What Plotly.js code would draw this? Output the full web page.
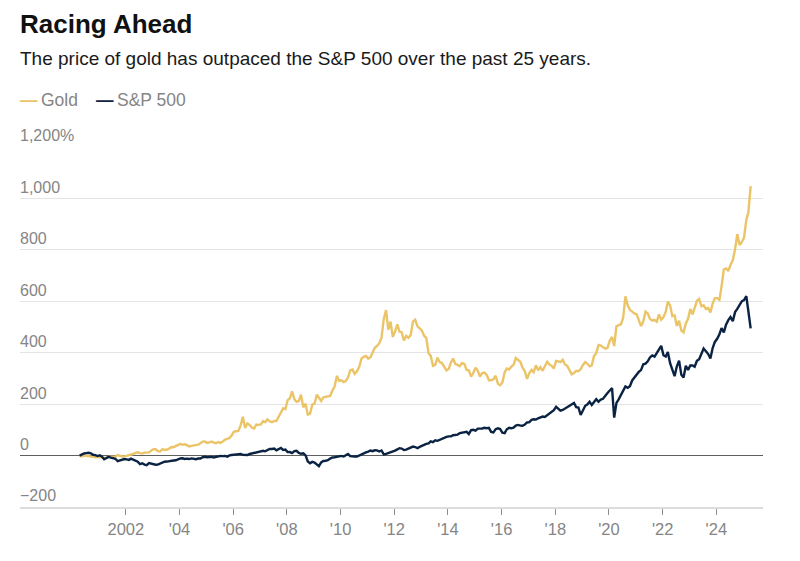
<!DOCTYPE html>
<html>
<head>
<meta charset="utf-8">
<script src="https://cdn.plot.ly/plotly-3.0.1.min.js"></script>
<style>
  html, body { margin: 0; padding: 0; background: #ffffff; }
  #chart { width: 800px; height: 561px; }
</style>
</head>
<body>
<div id="chart"></div>
<script>
// Monthly samples, April 2000 through April 2025 (cumulative % change since April 2000)
const startYear = 2000, startMonth = 4, endYear = 2025, endMonth = 4;

const goldPct = [
  // 2000 (Apr-Dec)
  0, -3.5, 0, -0.7, -3.5, -4.2, -5.3, -6.7, -4.6,
  // 2001
  -7, -8, -7.4, -8.8, -4.6, -5.3, -6.7, -4.6, 1.8, -1, -3.5, -3.2,
  // 2002
  -1, 3.9, 3.2, 6, 10.5, 13, 9.5, 7.7, 11.6, 10.5, 12.3, 19.3,
  // 2003
  25, 24.6, 17.5, 15.8, 24.6, 22.8, 22.8, 26.3, 33.3, 32.6, 37.6, 43.2,
  // 2004
  45.6, 42.1, 43.9, 40.4, 35.1, 37.9, 39.7, 41.1, 42.5, 48.1, 54.4, 55.1,
  // 2005
  48.8, 50.9, 54.4, 50.2, 48.1, 52.6, 49.1, 54.4, 62.1, 64.9, 68.4, 79,
  // 2006
  93, 94.7, 95.8, 117.6, 151, 107, 124.6, 119.3, 108.8, 105.3, 120.4, 119.3,
  // 2007
  121, 134.4, 129.8, 140.4, 133.3, 129.8, 134.4, 134.4, 150.9, 166.7, 184.2, 180.7,
  // 2008
  215.8, 222.8, 250, 219.3, 208.8, 212.3, 236.9, 187.7, 201.8, 159.7, 163.2, 198.3,
  // 2009
  201.8, 236.9, 222.8, 212.3, 226.3, 228.1, 228.1, 231.6, 252.6, 268.4, 310, 290,
  // 2010
  293, 286, 289.5, 303.5, 331.6, 335.1, 317.6, 328, 345.6, 377.2, 384.2, 387.7,
  // 2011
  377.2, 382.5, 400, 419.3, 426.4, 436.9, 458, 531.6, 566, 489.5, 521.1, 461.4,
  // 2012
  482.5, 510.6, 482.5, 479, 447.4, 465, 458, 468.4, 521, 528, 503.5, 493,
  // 2013
  486, 465, 458, 398.3, 387.7, 349, 352.6, 380.7, 363.2, 359.7, 342.1, 331.6,
  // 2014
  336.8, 363.2, 377.2, 356.1, 352.6, 347.4, 359.7, 356.1, 333.4, 331.6, 307, 321,
  // 2015
  342, 329.8, 307, 321, 322.8, 314, 293, 293, 296.5, 310.5, 279, 273.7,
  // 2016
  284.2, 324.6, 338.6, 335, 345.6, 352.6, 379, 370.2, 365, 342, 328, 298.3,
  // 2017
  321, 333.4, 324.6, 350.9, 331.6, 343.9, 329.8, 347.4, 365, 354.4, 349, 338.6,
  // 2018
  368.4, 366.7, 363.2, 372, 354.4, 349, 335, 315.8, 321, 329.8, 328, 336.8,
  // 2019
  352.6, 363.2, 357.9, 347.4, 350.9, 387.7, 398.3, 430, 428, 422.8, 415.8, 419.3,
  // 2020
  447.4, 461.4, 426, 503.5, 507, 510.6, 535, 619.3, 584.2, 566.7, 559.7, 552.6,
  // 2021
  549.2, 524.6, 503.5, 521, 559.7, 552.6, 531.6, 524.6, 528, 521, 549.2, 528,
  // 2022
  538.6, 559.7, 598.3, 584.2, 542.1, 545.6, 503.5, 524.6, 486, 479, 514, 531.6,
  // 2023
  570.2, 549.2, 573.7, 601.8, 608.8, 580.7, 584.2, 570.2, 573.7, 556.1, 591.2, 612.3,
  // 2024
  612.3, 605.3, 657.9, 724.6, 728.1, 717.5, 742.1, 759.6, 801.8, 861.4, 819.3, 829.8,
  // 2025 (Jan-Apr)
  847.4, 917.6, 945.6, 1048
];

const spPct = [
  // 2000 (Apr-Dec)
  0, 4.8, 8, 9.5, 11, 9, 3, 1.7, -1.9,
  // 2001
  1.2, -4.7, -14.3, -8.9, -5.1, -8, -9.4, -12.3, -21.9, -18.9, -15, -13.4,
  // 2002
  -14.7, -16.8, -12.2, -16.6, -18.1, -24, -33, -29.9, -35.1, -37.3, -29.6, -31.8,
  // 2003
  -32.4, -35.8, -35.4, -30.6, -27.4, -23.8, -23.3, -22.8, -21.6, -19.1, -18.2, -14.6,
  // 2004
  -11.3, -10.4, -13, -12.1, -13.5, -11.1, -13.3, -14, -11.5, -11.4, -6.5, -4.8,
  // 2005
  -6.2, -4.4, -5.1, -7.4, -4.8, -3.9, -1.4, -2, -1.5, -4.2, 0.8, 2.2,
  // 2006
  3.5, 4.1, 5.5, 6.5, 2.5, 1.9, 2.1, 6.2, 8, 12.3, 14.5, 16.3,
  // 2007
  17.8, 18.8, 16.5, 22.5, 26, 25.4, 27.2, 20.7, 26.8, 29.5, 22.1, 23.2,
  // 2008
  13.3, 13.6, 9.6, 17.4, 18.5, 10.3, 7, 9, 0.7, -23.1, -29.7, -24.5,
  // 2009
  -26.9, -33.6, -41.3, -26.4, -21.1, -20.1, -18.1, -11.9, -7.3, -6.3, -4.3, -1.9,
  // 2010
  -1.3, -3.8, 2.5, 6.3, -2.4, -4, -3.9, -3.7, 0.9, 5.5, 7.4, 12.1,
  // 2011
  15.4, 19.7, 17.2, 20.5, 20.3, 15.9, 19.7, 4.5, 6.5, 9.4, 11.4, 13.4,
  // 2012
  19.1, 23.9, 28.7, 27.1, 21.8, 23, 26.9, 30.5, 34.8, 33.2, 28.8, 33.7,
  // 2013
  38.6, 41.7, 45.6, 47.7, 55.5, 52.1, 59, 57.3, 61.4, 63.5, 70.4, 72.6,
  // 2014
  74.8, 75, 79.1, 79.4, 81.6, 87.7, 89.9, 90.3, 92.5, 84.1, 99, 100.2,
  // 2015
  96.7, 104.8, 104.2, 105.5, 107.8, 106.1, 107.6, 92.1, 90.4, 102.8, 106, 103.3,
  // 2016
  88.7, 87.2, 102.4, 107.7, 106.1, 108.5, 116.8, 119.3, 116.6, 115.9, 120.4, 128.8,
  // 2017
  130.2, 138.6, 141, 140.3, 144.9, 148.4, 151.8, 150.1, 156.7, 163.4, 166.8, 176.5,
  // 2018
  189.3, 179.5, 174.8, 177.2, 183, 187.6, 193.2, 199.1, 204.7, 188.4, 186.7, 157.8,
  // 2019
  178.2, 193.4, 198.2, 209.2, 196.9, 210.3, 219.3, 209.1, 218, 220.8, 234.1, 243.1,
  // 2020
  253.3, 262.4, 147.7, 205.1, 218.5, 235.2, 251.8, 268.6, 263.7, 269.6, 292.1, 303.6,
  // 2021
  315, 326.3, 332.3, 354.8, 357.3, 366.7, 381.6, 389.7, 384.8, 398.3, 416.6, 426.5,
  // 2022
  390, 385.2, 402.5, 359, 334, 309, 346.3, 369.2, 314, 303.3, 349, 332.7,
  // 2023
  350.2, 350.8, 345.7, 368.8, 375.1, 398.4, 416, 405.4, 394.7, 377.9, 418.4, 441.9,
  // 2024
  454.1, 471.9, 495.6, 479.1, 508.6, 526.6, 538.9, 522.4, 557.9, 570.2, 588.5, 600,
  // 2025 (Jan-Apr)
  605, 620, 561.3, 495
];

const xTickVals = ["2002-01-01","2004-01-01","2006-01-01","2008-01-01","2010-01-01","2012-01-01",
                   "2014-01-01","2016-01-01","2018-01-01","2020-01-01","2022-01-01","2024-01-01"];
const xTickText = ["2002","'04","'06","'08","'10","'12","'14","'16","'18","'20","'22","'24"];
const yTickVals = [-200, 0, 200, 400, 600, 800, 1000, 1200];
const yTickText = ["\u2212200", "0", "200", "400", "600", "800", "1,000", "1,200%"];

const titleText = "Racing Ahead";
const subtitleText = "The price of gold has outpaced the S&P 500 over the past 25 years.";
const seriesNames = ["Gold", "S&P 500"];
const colors = { gold: "#EBC468", navy: "#0B2343", grid: "#E4E4E4", label: "#858585" };

// month dates (x positions of the samples)
const dates = [];
for (let y = startYear, m = startMonth; y < endYear || (y === endYear && m <= endMonth); ) {
  dates.push(y + "-" + String(m).padStart(2, "0") + "-12");
  m++; if (m > 12) { m = 1; y++; }
}

const font = "'Liberation Sans', Arial, Helvetica, sans-serif";
const textX = -0.0027;

const traces = [
  { x: dates, y: goldPct, type: "scatter", mode: "lines", name: seriesNames[0],
    line: { color: colors.gold, width: 2.4 }, hoverinfo: "skip" },
  { x: dates, y: spPct, type: "scatter", mode: "lines", name: seriesNames[1],
    line: { color: colors.navy, width: 2.4 }, hoverinfo: "skip" }
];

const layout = {
  width: 800, height: 561,
  paper_bgcolor: "#ffffff", plot_bgcolor: "#ffffff",
  margin: { l: 20, r: 37, t: 147, b: 54, pad: 0 },
  showlegend: false,
  font: { family: font, color: colors.label },
  xaxis: {
    type: "date",
    range: ["1998-01-22", "2025-09-27"],
    tickmode: "array", tickvals: xTickVals, ticktext: xTickText,
    ticks: "outside", ticklen: 6, tickwidth: 1, tickcolor: "#8c8c8c",
    tickfont: { size: 16.5, color: colors.label, family: font },
    showgrid: false, zeroline: false,
    showline: true, linecolor: "#DCDCDC", linewidth: 2,
    fixedrange: true
  },
  yaxis: {
    range: [-200, 1200],
    tickmode: "array", tickvals: yTickVals, ticktext: yTickText,
    ticklabelposition: "inside top", ticklabeloverflow: "allow",
    ticklabelstandoff: -3,
    ticks: "", tickfont: { size: 16, color: colors.label, family: font },
    showgrid: true, gridcolor: colors.grid, gridwidth: 1,
    zeroline: true, zerolinecolor: "#5f5f5f", zerolinewidth: 1,
    showline: false, fixedrange: true
  },
  annotations: [
    { xref: "paper", yref: "paper", x: textX, y: 1.342, xanchor: "left", yanchor: "middle",
      text: "<b>" + titleText + "</b>", showarrow: false,
      font: { size: 26, color: "#111111", family: font } },
    { xref: "paper", yref: "paper", x: textX, y: 1.245, xanchor: "left", yanchor: "middle",
      text: subtitleText, showarrow: false,
      font: { size: 19, color: "#1a1a1a", family: font } },
    { xref: "paper", yref: "paper", x: textX, y: 1.13, xanchor: "left", yanchor: "middle",
      text: "<b style='color:" + colors.gold + "'>\u2014</b>\u2009" + seriesNames[0], showarrow: false,
      font: { size: 17.5, color: colors.label, family: font } },
    { xref: "paper", yref: "paper", x: 0.099, y: 1.13, xanchor: "left", yanchor: "middle",
      text: "<b style='color:" + colors.navy + "'>\u2014</b>\u2009" + seriesNames[1], showarrow: false,
      font: { size: 17.5, color: colors.label, family: font } }
  ]
};

Plotly.newPlot("chart", traces, layout, { displayModeBar: false, staticPlot: true });
</script>
</body>
</html>
